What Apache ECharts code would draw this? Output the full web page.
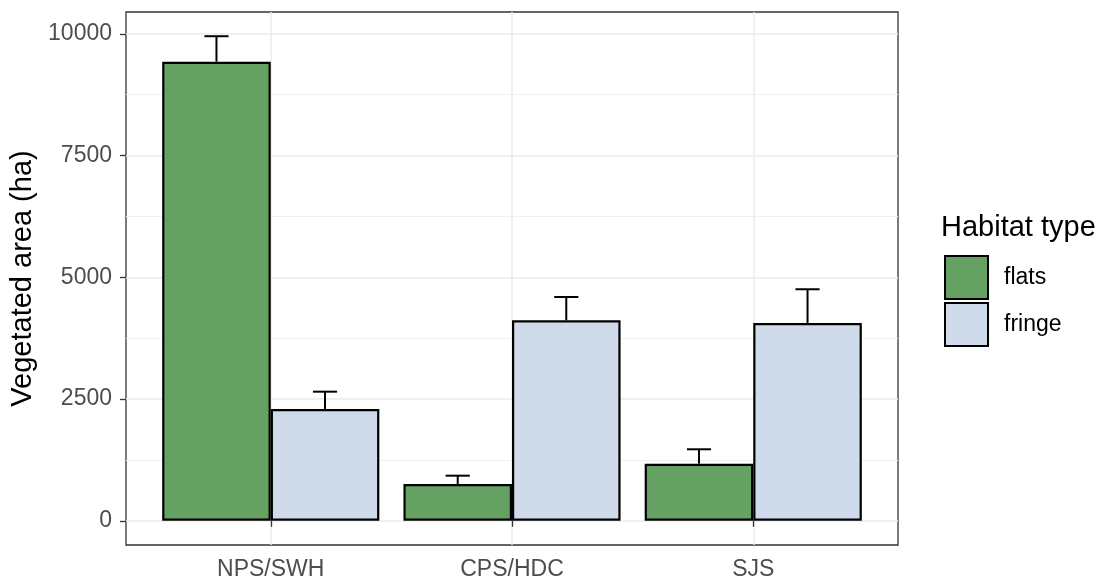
<!DOCTYPE html>
<html><head><meta charset="utf-8">
<script src="https://cdn.jsdelivr.net/npm/echarts@6/dist/echarts.min.js"></script>
<style>html,body{margin:0;padding:0;background:#fff}#c{width:1104px;height:581px}</style>
</head><body><div id="c"></div>
<script>
const categories = ['NPS/SWH', 'CPS/HDC', 'SJS'];
const seriesNames = ['flats', 'fringe'];
const flats = [9427, 756, 1172];
const flatsUpper = [9950, 926, 1468];
const fringe = [2296, 4117, 4062];
const fringeUpper = [2651, 4595, 4754];
const yTicks = [0, 2500, 5000, 7500, 10000];
const yMinorTicks = [1250, 3750, 6250, 8750];

const FONT = "'Liberation Sans', Arial, sans-serif";
const maxUpper = Math.max(...flatsUpper, ...fringeUpper);
const yMin = -0.05 * maxUpper, yMax = 1.05 * maxUpper;
const xPos = categories.map((c, i) => i + 1);
const dodge = 0.225, capHalf = 0.05;

function errData(vals, upper, off) {
  return vals.map((v, i) => [xPos[i] + off, v, upper[i]]);
}
function renderErr(params, api) {
  const x = api.value(0), lo = api.value(1), hi = api.value(2);
  const p1 = api.coord([x, lo]), p2 = api.coord([x, hi]);
  const l = api.coord([x - capHalf, hi]), r = api.coord([x + capHalf, hi]);
  const st = { stroke: '#000', lineWidth: 2 };
  return { type: 'group', children: [
    { type: 'line', shape: { x1: p1[0], y1: p1[1], x2: p2[0], y2: p2[1] }, style: st },
    { type: 'line', shape: { x1: l[0], y1: l[1], x2: r[0], y2: r[1] }, style: st }
  ]};
}

const chart = echarts.init(document.getElementById('c'), null, { renderer: 'canvas' });
chart.setOption({
  animation: false,
  backgroundColor: '#fff',
  textStyle: { fontFamily: FONT },
  title: { text: 'Habitat type', left: 941, top: 213, padding: 0,
    textStyle: { fontFamily: FONT, fontSize: 29, fontWeight: 'normal', color: '#000' } },
  legend: { data: seriesNames, orient: 'vertical', left: 939, top: 250,
    itemWidth: 43, itemHeight: 43, itemGap: 2, icon: 'rect',
    textStyle: { fontFamily: FONT, fontSize: 23, color: '#000', padding: [2, 0, 0, 11] } },
  grid: { left: 126, right: 206, top: 12, bottom: 36, show: true,
    borderColor: '#333', borderWidth: 1.3, backgroundColor: '#fff' },
  xAxis: { type: 'value', min: 0.4, max: 3.6,
    axisLine: { show: false },
    axisTick: { show: true, length: 6, lineStyle: { color: '#333', width: 1.3 }, customValues: xPos },
    axisLabel: { customValues: xPos, formatter: v => categories[Math.round(v) - 1] || '',
      fontFamily: FONT, fontSize: 23, color: '#4d4d4d', margin: 13 },
    splitLine: { show: true, lineStyle: { color: '#ebebeb', width: 1.5 } } },
  yAxis: [
    { type: 'value', min: yMin, max: yMax,
      name: 'Vegetated area (ha)', nameLocation: 'middle', nameRotate: 90, nameGap: 88,
      nameTextStyle: { fontFamily: FONT, fontSize: 29, color: '#000' },
      axisLine: { show: false },
      axisTick: { show: true, length: 6, lineStyle: { color: '#333', width: 1.3 }, customValues: yTicks },
      axisLabel: { customValues: yTicks, formatter: v => String(v),
        fontFamily: FONT, fontSize: 23, color: '#4d4d4d', margin: 14 },
      splitLine: { show: true, lineStyle: { color: '#ebebeb', width: 1.5 } } },
    { type: 'value', min: yMin, max: yMax, position: 'left',
      axisLine: { show: false },
      axisTick: { show: false, customValues: yMinorTicks },
      axisLabel: { show: false, customValues: yMinorTicks },
      splitLine: { show: true, lineStyle: { color: '#f0f0f0', width: 1 } } }
  ],
  series: [
    { name: 'flats', type: 'bar', data: xPos.map((x, i) => [x, flats[i]]),
      barCategoryGap: '10%', barGap: '0%', z: 3,
      itemStyle: { color: '#65A163', borderColor: '#000', borderWidth: 2.2 } },
    { name: 'fringe', type: 'bar', data: xPos.map((x, i) => [x, fringe[i]]),
      barCategoryGap: '10%', barGap: '0%', z: 3,
      itemStyle: { color: '#CFDBEB', borderColor: '#000', borderWidth: 2.2 } },
    { type: 'custom', renderItem: renderErr, data: errData(flats, flatsUpper, -dodge),
      encode: { x: 0, y: [1, 2] }, z: 2, silent: true },
    { type: 'custom', renderItem: renderErr, data: errData(fringe, fringeUpper, dodge),
      encode: { x: 0, y: [1, 2] }, z: 2, silent: true }
  ]
});
</script></body></html>
